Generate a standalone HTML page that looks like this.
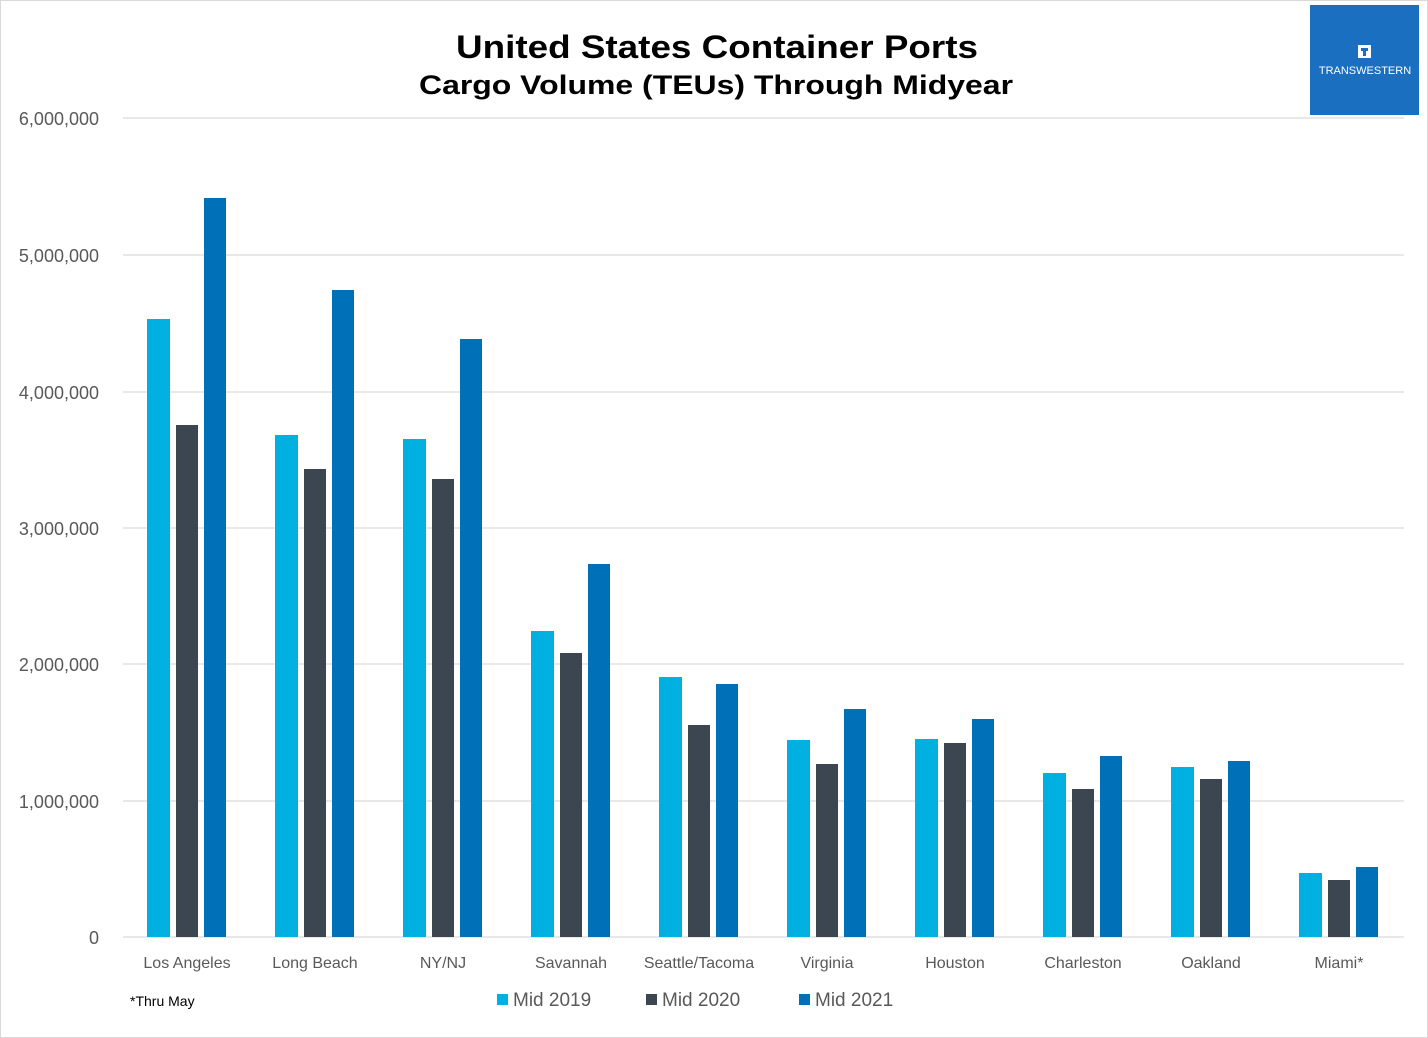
<!DOCTYPE html>
<html><head><meta charset="utf-8"><style>
html,body{margin:0;padding:0;background:#fff}
svg{display:block}
text{font-family:"Liberation Sans",sans-serif}
</style></head><body>
<svg width="1428" height="1038" viewBox="0 0 1428 1038" xmlns="http://www.w3.org/2000/svg">
<rect x="0.5" y="0.5" width="1427" height="1037" fill="#fff" stroke="#d9d9d9"/>
<g stroke="#d9d9d9" stroke-width="1.3">
<line x1="123" y1="118" x2="1404" y2="118"/>
<line x1="123" y1="255" x2="1404" y2="255"/>
<line x1="123" y1="392" x2="1404" y2="392"/>
<line x1="123" y1="528" x2="1404" y2="528"/>
<line x1="123" y1="664" x2="1404" y2="664"/>
<line x1="123" y1="801" x2="1404" y2="801"/>
<line x1="123" y1="937" x2="1404" y2="937"/>
</g>
<g font-size="18" fill="#595959" text-anchor="end">
<text x="99" y="125">6,000,000</text>
<text x="99" y="262">5,000,000</text>
<text x="99" y="399">4,000,000</text>
<text x="99" y="535">3,000,000</text>
<text x="99" y="671">2,000,000</text>
<text x="99" y="808">1,000,000</text>
<text x="99" y="944">0</text>
</g>
<text x="456" y="58" font-size="32" font-weight="bold" fill="#000" textLength="522" lengthAdjust="spacingAndGlyphs">United States Container Ports</text>
<text x="419" y="94" font-size="27" font-weight="bold" fill="#000" textLength="594" lengthAdjust="spacingAndGlyphs">Cargo Volume (TEUs) Through Midyear</text>
<rect x="1310" y="5" width="109" height="110" fill="#1a6fc0"/>
<rect x="1358" y="45" width="13" height="13" fill="#fff"/>
<rect x="1361" y="48" width="7" height="3" fill="#1a6fc0"/>
<rect x="1363" y="51" width="3" height="5" fill="#1a6fc0"/>
<text x="1365" y="74" font-size="11" fill="#fff" text-anchor="middle">TRANSWESTERN</text>
<g id="bars">
<rect x="147" y="319" width="23" height="618" fill="#00b0e0"/><rect x="176" y="425" width="22" height="512" fill="#3c4650"/><rect x="204" y="198" width="22" height="739" fill="#0070b8"/>
<rect x="275" y="435" width="23" height="502" fill="#00b0e0"/><rect x="304" y="469" width="22" height="468" fill="#3c4650"/><rect x="332" y="290" width="22" height="647" fill="#0070b8"/>
<rect x="403" y="439" width="23" height="498" fill="#00b0e0"/><rect x="432" y="479" width="22" height="458" fill="#3c4650"/><rect x="460" y="339" width="22" height="598" fill="#0070b8"/>
<rect x="531" y="631" width="23" height="306" fill="#00b0e0"/><rect x="560" y="653" width="22" height="284" fill="#3c4650"/><rect x="588" y="564" width="22" height="373" fill="#0070b8"/>
<rect x="659" y="677" width="23" height="260" fill="#00b0e0"/><rect x="688" y="725" width="22" height="212" fill="#3c4650"/><rect x="716" y="684" width="22" height="253" fill="#0070b8"/>
<rect x="787" y="740" width="23" height="197" fill="#00b0e0"/><rect x="816" y="764" width="22" height="173" fill="#3c4650"/><rect x="844" y="709" width="22" height="228" fill="#0070b8"/>
<rect x="915" y="739" width="23" height="198" fill="#00b0e0"/><rect x="944" y="743" width="22" height="194" fill="#3c4650"/><rect x="972" y="719" width="22" height="218" fill="#0070b8"/>
<rect x="1043" y="773" width="23" height="164" fill="#00b0e0"/><rect x="1072" y="789" width="22" height="148" fill="#3c4650"/><rect x="1100" y="756" width="22" height="181" fill="#0070b8"/>
<rect x="1171" y="767" width="23" height="170" fill="#00b0e0"/><rect x="1200" y="779" width="22" height="158" fill="#3c4650"/><rect x="1228" y="761" width="22" height="176" fill="#0070b8"/>
<rect x="1299" y="873" width="23" height="64" fill="#00b0e0"/><rect x="1328" y="880" width="22" height="57" fill="#3c4650"/><rect x="1356" y="867" width="22" height="70" fill="#0070b8"/>
</g>
<g font-size="16" fill="#595959" text-anchor="middle">
<text x="187" y="968">Los Angeles</text>
<text x="315" y="968">Long Beach</text>
<text x="443" y="968">NY/NJ</text>
<text x="571" y="968">Savannah</text>
<text x="699" y="968">Seattle/Tacoma</text>
<text x="827" y="968">Virginia</text>
<text x="955" y="968">Houston</text>
<text x="1083" y="968">Charleston</text>
<text x="1211" y="968">Oakland</text>
<text x="1339" y="968">Miami*</text>
</g>
<text x="130" y="1006" font-size="14" fill="#000">*Thru May</text>
<g font-size="19" fill="#595959">
<rect x="497" y="994" width="11" height="11" fill="#00b0e0"/><text x="513" y="1006">Mid 2019</text>
<rect x="646" y="994" width="11" height="11" fill="#3c4650"/><text x="662" y="1006">Mid 2020</text>
<rect x="799" y="994" width="11" height="11" fill="#0070b8"/><text x="815" y="1006">Mid 2021</text>
</g>
</svg>
</body></html>
